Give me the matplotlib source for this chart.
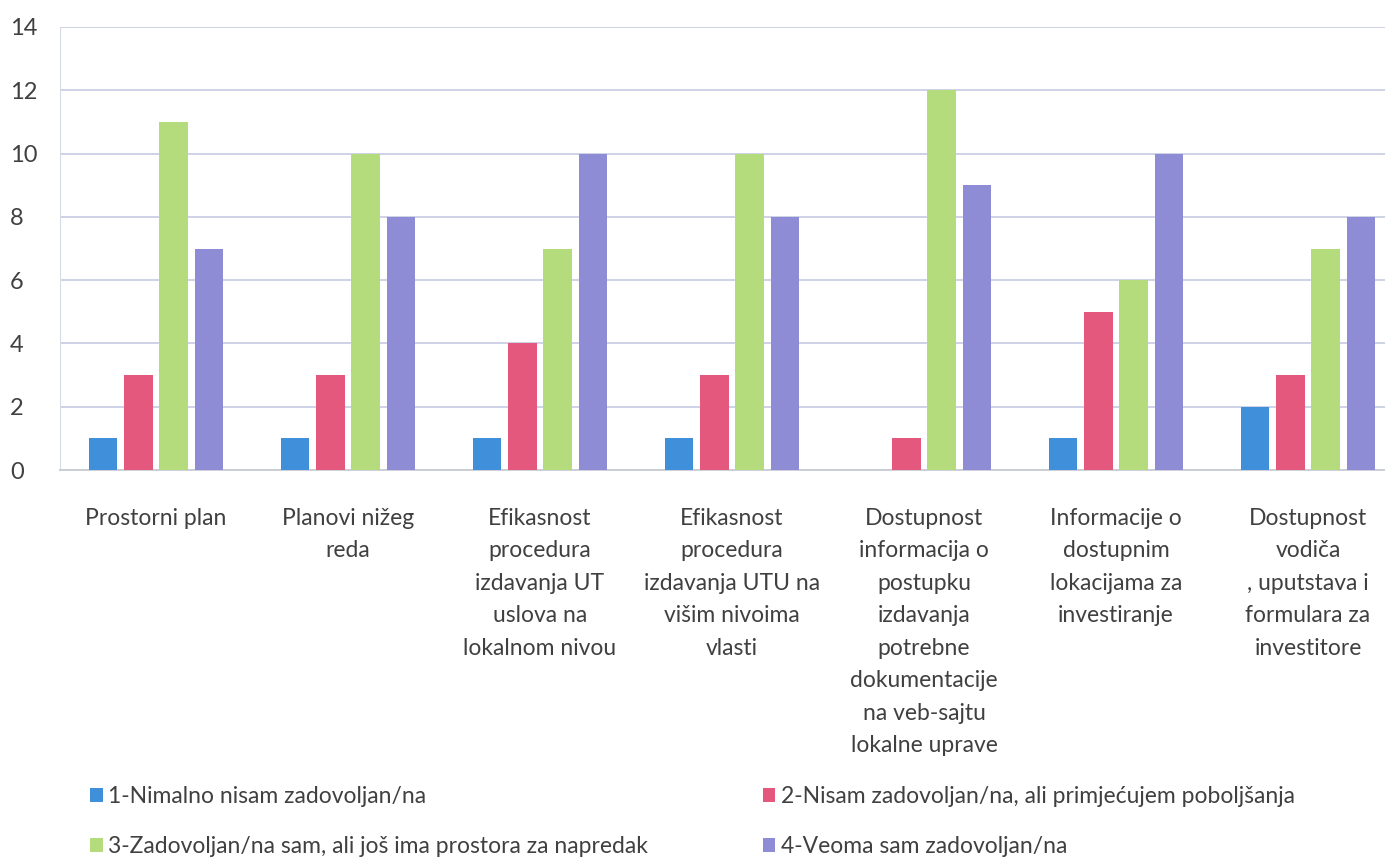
import matplotlib
matplotlib.use("Agg")
import matplotlib.pyplot as plt
import numpy as np

plt.rcParams['font.family'] = ['Lato', 'DejaVu Sans']

categories = [
    "Prostorni plan",
    "Planovi nižeg\nreda",
    "Efikasnost\nprocedura\nizdavanja UT\nuslova na\nlokalnom nivou",
    "Efikasnost\nprocedura\nizdavanja UTU na\nvišim nivoima\nvlasti",
    "Dostupnost\ninformacija o\npostupku\nizdavanja\npotrebne\ndokumentacije\nna veb-sajtu\nlokalne uprave",
    "Informacije o\ndostupnim\nlokacijama za\ninvestiranje",
    "Dostupnost\nvodiča\n, uputstava i\nformulara za\ninvestitore",
]
series_names = [
    "1-Nimalno nisam zadovoljan/na",
    "2-Nisam zadovoljan/na, ali primjećujem poboljšanja",
    "3-Zadovoljan/na sam, ali još ima prostora za napredak",
    "4-Veoma sam zadovoljan/na",
]
s1 = [1, 1, 1, 1, 0, 1, 2]
s2 = [3, 3, 4, 3, 1, 5, 3]
s3 = [11, 10, 7, 10, 12, 6, 7]
s4 = [7, 8, 10, 8, 9, 10, 8]
colors = ["#3f8fdb", "#e5587e", "#b4dc7c", "#8f8cd6"]

fig = plt.figure(figsize=(13.85, 8.65), dpi=100)
# axes runs past the right edge like in the cropped source
ax = fig.add_axes([0.0433, 0.4566, 0.9704, 0.5122])

x = np.arange(len(categories))
step = 0.183
width = 0.147
bars = []
for i, (vals, c) in enumerate(zip([s1, s2, s3, s4], colors)):
    b = ax.bar(x + (i - 1.5) * step, vals, width, color=c, label=series_names[i], zorder=3)
    bars.append(b)

ax.set_xlim(-0.5, len(categories) - 0.5)
ax.set_ylim(0, 14)
ax.set_yticks(np.arange(0, 15, 2))
ax.yaxis.grid(True, color="#cdd2e6", lw=1.4, zorder=0)
ax.set_axisbelow(True)
ax.tick_params(axis='y', length=0, pad=36, labelsize=17, labelcolor="#404040")
for lab in ax.get_yticklabels():
    lab.set_horizontalalignment("left")
ax.tick_params(axis='x', length=0, pad=27)
ax.set_xticks(x)
ax.set_xticklabels(categories, fontsize=16.5, color="#404040", linespacing=1.68)
for sp in ["top", "right"]:
    ax.spines[sp].set_visible(False)
ax.spines["left"].set_color("#d6dbe6")
ax.spines["bottom"].set_color("#c8ccd4")
ax.spines["bottom"].set_linewidth(1.3)

order = [0, 2, 1, 3]
leg = fig.legend([bars[i] for i in order], [series_names[i] for i in order],
                 loc="upper left", bbox_to_anchor=(0.065, 0.091), ncol=2, frameon=False,
                 fontsize=16.5, handlelength=0.55, handleheight=0.55, handletextpad=0.25,
                 columnspacing=5.0, labelspacing=1.25, borderpad=0, borderaxespad=0,
                 labelcolor="#404040")

fig.savefig("out.png", dpi=100)
